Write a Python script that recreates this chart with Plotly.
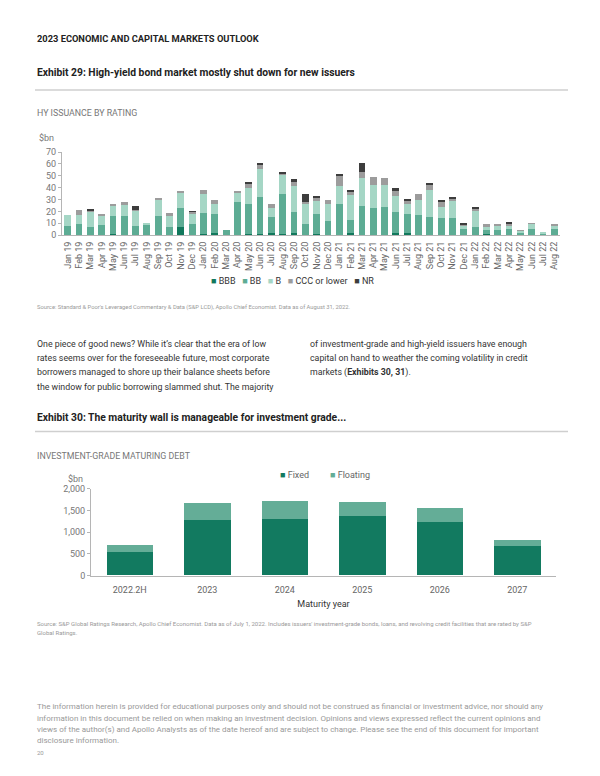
import plotly.graph_objects as go

# ---------------- Data: Exhibit 29 (HY issuance by rating, $bn) ----------------
months = ["Jan 19","Feb 19","Mar 19","Apr 19","May 19","Jun 19","Jul 19","Aug 19","Sep 19","Oct 19","Nov 19","Dec 19",
          "Jan 20","Feb 20","Mar 20","Apr 20","May 20","Jun 20","Jul 20","Aug 20","Sep 20","Oct 20","Nov 20","Dec 20",
          "Jan 21","Feb 21","Mar 21","Apr 21","May 21","Jun 21","Jul 21","Aug 21","Sep 21","Oct 21","Nov 21","Dec 21",
          "Jan 22","Feb 22","Mar 22","Apr 22","May 22","Jun 22","Jul 22","Aug 22"]
bbb = [0, 0, 0, 0, 1, 0, 0, 0, 0, 0, 7, 0,
       1, 2, 0, 0, 1, 1, 2, 1, 2, 0, 1, 0,
       0, 2, 0, 0, 0, 1.5, 1.5, 0, 0, 0, 0, 0,
       0, 0.5, 0, 0, 0, 0, 0, 0]
bb = [8, 9.5, 7, 8.5, 15, 16.5, 8, 8.5, 16.5, 6.5, 16, 9.5,
      18, 15.5, 4, 28, 25, 31, 13.5, 34, 17.5, 9, 16.5, 12,
      26, 11, 24.5, 22.5, 24, 18, 16, 17, 15.5, 14, 14.5, 5.5,
      7, 4, 4, 5.5, 2, 5.5, 1, 5]
b = [9, 7.5, 13, 8, 9, 8.5, 12.5, 1.3, 13.5, 10, 13, 8,
     15.5, 8.5, 0, 7.5, 14, 24, 7.5, 16, 21.5, 17, 11.5, 14.5,
     15.5, 21, 23.5, 20, 18, 13.5, 8.5, 13, 22.5, 10, 14, 2.5,
     13, 2.5, 3.5, 2.5, 1.5, 4, 1, 3]
ccc = [0, 4, 1, 1, 1.5, 2.5, 1, 0, 1, 2.5, 1, 2,
       3.5, 4, 0, 1, 3, 3.5, 3.5, 1, 4.5, 2, 2.5, 3,
       8, 2.5, 5, 6.5, 6.5, 4.5, 3, 4.5, 4.5, 4.5, 2, 1,
       2.5, 2, 2, 2, 0.5, 0.5, 0, 0.5]
nr = [0, 0, 1, 0, 0, 0, 3, 0, 0, 0, 0, 0.5,
      0, 0, 0, 0, 1.5, 0.5, 0, 1, 1.5, 6.5, 1, 0,
      2, 1, 7.5, 0, 0, 2, 1.5, 0, 1.5, 1, 1, 0.5,
      1.5, 0, 0, 1, 0, 0, 0, 0]
hy_ticks = [0, 10, 20, 30, 40, 50, 60, 70]

# ---------------- Data: Exhibit 30 (IG maturing debt, $bn) ----------------
years = ["2022.2H", "2023", "2024", "2025", "2026", "2027"]
fixed = [535, 1275, 1305, 1360, 1240, 675]
floating = [165, 385, 420, 335, 315, 150]
ig_ticks = [0, 500, 1000, 1500, 2000]

C_BBB, C_BB, C_B, C_CCC, C_NR = "#11785c", "#5dac94", "#a5d6c5", "#9c9c9c", "#3d3d3d"
C_FIX, C_FLT = "#127a60", "#64ad97"

# figure sits inside the page's 8px body margin
OFF = 8
W, H = 600 - 2 * OFF, 776 - 2 * OFF
def py(y):
    return 1 - (y - OFF) / H
def px(x):
    return (x - OFF) / W

FONT = "Roboto"
fig = go.Figure()

for name, vals, col in [("BBB", bbb, C_BBB), ("BB", bb, C_BB), ("B", b, C_B),
                        ("CCC or lower", ccc, C_CCC), ("NR", nr, C_NR)]:
    fig.add_trace(go.Bar(x=months, y=vals, name=name, marker=dict(color=col, line=dict(width=0)),
                         xaxis="x", yaxis="y", showlegend=False))

for name, vals, col in [("Fixed", fixed, C_FIX), ("Floating", floating, C_FLT)]:
    fig.add_trace(go.Bar(x=years, y=vals, name=name, marker=dict(color=col, line=dict(width=0)),
                         xaxis="x2", yaxis="y2", showlegend=False))

axis_common = dict(showgrid=False, zeroline=False, showline=True, linecolor="#b5b5b5", linewidth=1,
                   ticks="outside", tickcolor="#b5b5b5", ticklen=3, fixedrange=True)

fig.update_layout(
    width=W, height=H, autosize=False,
    margin=dict(l=0, r=0, t=0, b=0),
    paper_bgcolor="white", plot_bgcolor="white",
    barmode="stack", bargap=0.4,
    font=dict(family=FONT, color="#555"),
    xaxis=dict(domain=[px(62), px(560)], anchor="y", tickangle=-90,
               tickfont=dict(size=9, color="#666"), ticks="", showline=True, ticklabelstandoff=2,
               linecolor="#b5b5b5", showgrid=False, zeroline=False, fixedrange=True),
    yaxis=dict(domain=[py(233), py(149)], anchor="x", range=[0, 70], tickvals=hy_ticks,
               tickfont=dict(size=9, color="#777"), **axis_common),
    xaxis2=dict(domain=[px(91), px(556)], anchor="y2", ticks="", ticklabelstandoff=6,
                tickfont=dict(size=9, color="#666"), showline=True, linecolor="#b5b5b5",
                showgrid=False, zeroline=False, fixedrange=True,
                title=dict(text="Maturity year", font=dict(size=9, color="#333"), standoff=6)),
    yaxis2=dict(domain=[py(578), py(490)], anchor="x2", range=[0, 2000], tickvals=ig_ticks,
                tickformat=",", tickfont=dict(size=9, color="#777"), **axis_common),
)

def ann(x, y, text, size, color="#333", xanchor="left", bold=False, **kw):
    if bold:
        text = "<b>" + text + "</b>"
    fig.add_annotation(x=px(x), y=py(y), xref="paper", yref="paper", text=text, showarrow=False,
                       xanchor=xanchor, yanchor="middle", align="left",
                       font=dict(size=size, color=color, family=FONT), **kw)

ann(35, 34, "2023 ECONOMIC AND CAPITAL MARKETS OUTLOOK", 9.3, "#222", bold=True)
ann(35, 68, "Exhibit 29: High-yield bond market mostly shut down for new issuers", 10.3, "#222", bold=True)
ann(35, 109, "HY ISSUANCE BY RATING", 8.8, "#777")
ann(37, 135, "$bn", 9, "#777")

legend1 = ("<span style='color:%s'>■</span> BBB   <span style='color:%s'>■</span> BB   "
           "<span style='color:%s'>■</span> B   <span style='color:%s'>■</span> CCC or lower   "
           "<span style='color:%s'>■</span> NR") % (C_BBB, C_BB, C_B, C_CCC, C_NR)
ann(292, 280, legend1, 9, "#333", xanchor="center")

ann(35, 306, "Source: Standard &amp; Poor's Leveraged Commentary &amp; Data (S&amp;P LCD), Apollo Chief Economist. Data as of August 31, 2022.", 5.8, "#999")

left_lines = ["One piece of good news? While it\u2019s clear that the era of low",
              "rates seems over for the foreseeable future, most corporate",
              "borrowers managed to shore up their balance sheets before",
              "the window for public borrowing slammed shut. The majority"]
right_lines = ["of investment-grade and high-yield issuers have enough",
               "capital on hand to weather the coming volatility in credit",
               "markets (<b>Exhibits 30, 31</b>)."]
for i, t in enumerate(left_lines):
    ann(35, 343 + i * 14.5, t, 8.8, "#333")
for i, t in enumerate(right_lines):
    ann(308, 343 + i * 14.5, t, 8.8, "#333")

ann(35, 418, "Exhibit 30: The maturity wall is manageable for investment grade...", 10.3, "#222", bold=True)
ann(35, 457, "INVESTMENT-GRADE MATURING DEBT", 8.8, "#777")
ann(66, 480, "$bn", 9, "#777")
ann(278, 476, "<span style='color:%s'>■</span> Fixed" % C_FIX, 9, "#666")
ann(328, 476, "<span style='color:%s'>■</span> Floating" % C_FLT, 9, "#666")

ann(35, 627, "Source: S&amp;P Global Ratings Research, Apollo Chief Economist. Data as of July 1, 2022. Includes issuers' investment-grade bonds, loans, and revolving credit facilities that are rated by S&amp;P", 6.0, "#999")
ann(35, 636, "Global Ratings.", 6.0, "#999")

footer = ["The information herein is provided for educational purposes only and should not be construed as financial or investment advice, nor should any",
          "information in this document be relied on when making an investment decision. Opinions and views expressed reflect the current opinions and",
          "views of the author(s) and Apollo Analysts as of the date hereof and are subject to change. Please see the end of this document for important",
          "disclosure information."]
for i, t in enumerate(footer):
    ann(35, 711 + i * 11.5, t, 8.0, "#999")
ann(35, 757, "20", 6.0, "#999")

for yy in (86, 432):
    fig.add_shape(type="line", xref="paper", yref="paper", x0=px(35), x1=px(568), y0=py(yy), y1=py(yy),
                  line=dict(color="#cfcfcf", width=1.5))

fig.write_html("out.html")
